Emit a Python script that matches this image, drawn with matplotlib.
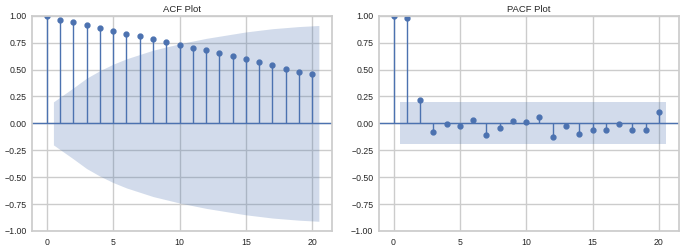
import numpy as np
import matplotlib.pyplot as plt
import seaborn as sns

sns.set_theme(style="whitegrid")
plt.rcParams['font.family'] = ['Liberation Sans', 'DejaVu Sans']

# ---------- Data ----------
lags = list(range(21))
acf_vals = [1.0, 0.965, 0.94, 0.915, 0.885, 0.86, 0.835, 0.81, 0.78, 0.755, 0.73,
            0.705, 0.68, 0.655, 0.625, 0.60, 0.57, 0.54, 0.51, 0.48, 0.455]
# half width of the confidence band for lags 1..20
acf_band = [0.20, 0.33, 0.42, 0.49, 0.55, 0.60, 0.64, 0.68, 0.71, 0.74,
            0.765, 0.79, 0.81, 0.83, 0.85, 0.865, 0.88, 0.89, 0.90, 0.91]

pacf_vals = [1.0, 0.975, 0.22, -0.08, -0.01, -0.02, 0.035, -0.11, -0.045, 0.025, 0.01,
             0.055, -0.13, -0.02, -0.095, -0.06, -0.06, -0.005, -0.065, -0.06, 0.11]
pacf_band = [0.195] * 20

color = sns.color_palette("deep")[0]


def corr_plot(ax, vals, band, title):
    ax.vlines(lags, [0] * len(lags), vals, color=color, lw=1)
    ax.plot(lags, vals, "o", color=color, markersize=3.5)
    ax.axhline(0, color=color, lw=1)
    bx = np.array(lags[1:], dtype=float)
    bx[0] -= 0.5
    bx[-1] += 0.5
    b = np.array(band)
    ax.fill_between(bx, -b, b, color=color, alpha=0.25, lw=0)
    ax.set_ylim(-1, 1)
    ax.set_xlim(-1.1, 21.5)
    ax.set_xticks([0, 5, 10, 15, 20])
    ax.set_yticks(np.arange(-1, 1.01, 0.25))
    ax.tick_params(labelsize=6.3, length=0, pad=4)
    ax.tick_params(axis="x", pad=5)
    ax.set_title(title, fontsize=6.8, pad=3)


fig, (ax1, ax2) = plt.subplots(1, 2, figsize=(6.85, 2.47), dpi=100)
fig.subplots_adjust(left=0.047, right=0.991, top=0.936, bottom=0.065, wspace=0.156)

corr_plot(ax1, acf_vals, acf_band, "ACF Plot")
corr_plot(ax2, pacf_vals, pacf_band, "PACF Plot")

fig.savefig("out.png")
